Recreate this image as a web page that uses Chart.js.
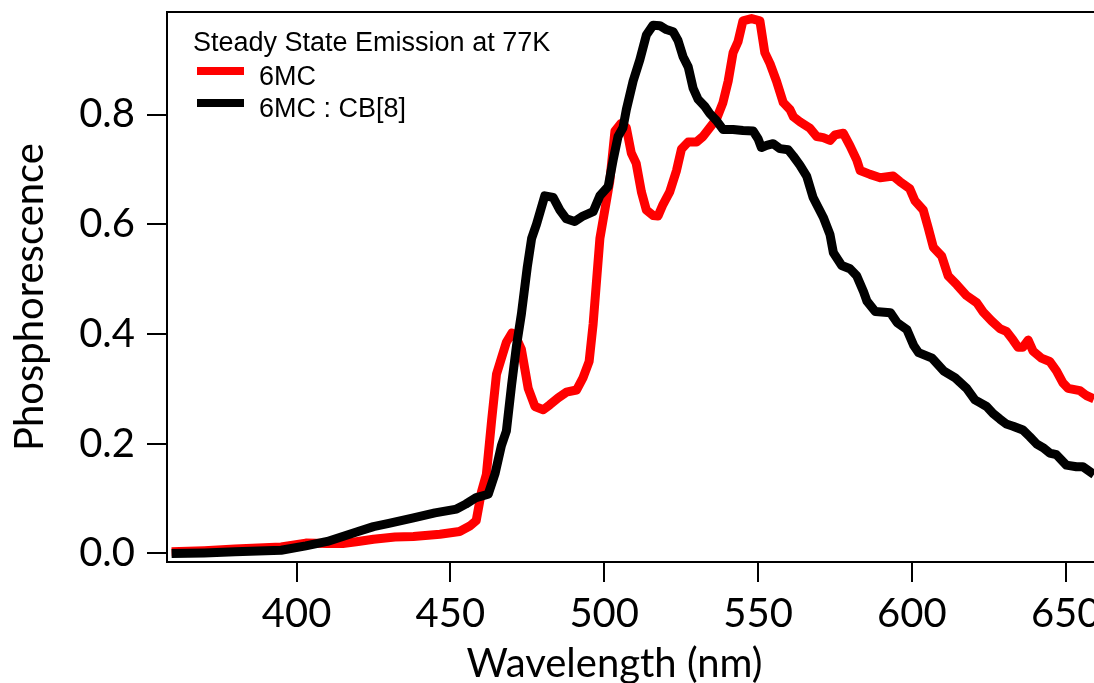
<!DOCTYPE html>
<html>
<head>
<meta charset="utf-8">
<script src="https://cdn.jsdelivr.net/npm/chart.js@4.4.1/dist/chart.umd.min.js"></script>
<style>
  html, body { margin: 0; padding: 0; background: #fff; overflow: hidden; }
  #wrap { width: 1094px; height: 683px; position: relative; }
</style>
</head>
<body>
<div id="wrap"><canvas id="c" width="1094" height="683"></canvas></div>
<script>
// Steady-state phosphorescence spectra at 77 K

const legendTitle = 'Steady State Emission at 77K';
const seriesNames = ['6MC', '6MC : CB[8]'];
const seriesColors = ['#ff0000', '#000000'];

const xTitle = 'Wavelength (nm)';
const yTitle = 'Phosphorescence';
const xTickValues = [400, 450, 500, 550, 600, 650];
const yTickValues = [0.0, 0.2, 0.4, 0.6, 0.8];
const xRange = [357.9, 659.2];
const yRange = [-0.0155, 0.987];

// 6MC alone
const wl6MC = [359.4, 370, 380, 395, 403, 410, 415, 420, 425, 432, 438, 446.6, 453, 456.3, 458.4, 460.1, 461.7, 463.4, 465, 466.6,
  468.2, 470, 471, 473.1, 475.3, 477.5, 480.2, 482.3, 485.1, 487.7, 491, 493.1, 495.1, 496.4, 497.5, 498.6, 500.2, 501.8, 503.5, 505.5, 507.2,
  508.8, 510.4, 512.1, 513.7, 515.9, 517.5, 519.1, 521.3, 523.5, 525.1, 527.3, 530, 532.1, 534.3, 536.5, 538.6, 540.3, 541.9, 543.5, 545.1,
  547.9, 550.6, 552.2, 553.9, 556, 558.2, 560.4, 561.5, 563.6, 566.9, 569.1, 571.2, 573.4, 575, 577.7, 579.9, 582.1, 583.2, 586.4, 589.7,
  593.9, 596.1, 599.3, 601, 603.7, 605.3, 607, 609.7, 611.8, 614.6, 617.8, 621.1, 623.2, 625.9, 628.6, 630.7, 632.9, 634.5, 636.1, 637.8,
  639.4, 642.1, 644.8, 647, 649.1, 650.8, 654.6, 656.7, 659.2];
const em6MC = [0.003, 0.005, 0.008, 0.012, 0.019, 0.018, 0.018, 0.022, 0.026, 0.030, 0.031, 0.035, 0.040, 0.050, 0.060, 0.112, 0.144, 0.242, 0.327, 0.356,
  0.385, 0.402, 0.398, 0.372, 0.301, 0.268, 0.262, 0.271, 0.284, 0.294, 0.298, 0.320, 0.350, 0.418, 0.496, 0.574, 0.626, 0.678, 0.770, 0.784, 0.776,
  0.730, 0.711, 0.659, 0.626, 0.616, 0.615, 0.636, 0.659, 0.698, 0.737, 0.750, 0.750, 0.760, 0.776, 0.792, 0.822, 0.861, 0.913, 0.933, 0.971,
  0.975, 0.971, 0.913, 0.893, 0.861, 0.822, 0.809, 0.796, 0.787, 0.775, 0.760, 0.758, 0.753, 0.763, 0.766, 0.743, 0.717, 0.698, 0.691, 0.685,
  0.688, 0.678, 0.665, 0.643, 0.626, 0.594, 0.558, 0.542, 0.506, 0.490, 0.470, 0.457, 0.440, 0.424, 0.410, 0.405, 0.389, 0.376, 0.376, 0.389,
  0.369, 0.356, 0.350, 0.333, 0.311, 0.301, 0.297, 0.288, 0.282];

// 6MC in the CB[8] host
const wlCB8 = [359.4, 370, 380, 395, 403, 410, 415, 420, 425, 430, 438, 445, 452, 455, 458.4, 462.3, 464.5, 466.6, 468.2, 469.9,
  471.5, 473.1, 475, 476.4, 478, 480.7, 483.4, 485.6, 487.7, 490.4, 493.1, 496.4, 498.6, 501.3, 502.9, 504.5, 506.1, 507.2, 509.4, 511.6,
  513.7, 515.9, 518.1, 520.2, 522.4, 524, 525.6, 527.3, 528.9, 530.5, 532.7, 534.3, 536.5, 538.6, 541.9, 545.1, 548.4, 550, 551.1, 552.8,
  554.9, 557.1, 559.8, 561.5, 563.6, 565.8, 567.9, 571.2, 573.4, 574.5, 577.2, 579.9, 582.1, 584.3, 585.4, 588.1, 593, 595.2, 598.4, 600.6,
  602.2, 606.6, 610.3, 614.1, 617.8, 620.5, 622.1, 624.3, 626.4, 628.6, 630.7, 632.9, 636.1, 638.3, 640.5, 642.6, 644.8, 647, 650.2, 653.5,
  655.6, 659.2];
const emCB8 = [0.000, 0.001, 0.003, 0.006, 0.014, 0.022, 0.031, 0.040, 0.049, 0.055, 0.065, 0.074, 0.081, 0.090, 0.102, 0.108, 0.145, 0.197, 0.223, 0.307,
  0.379, 0.437, 0.522, 0.574, 0.600, 0.652, 0.649, 0.626, 0.610, 0.605, 0.615, 0.623, 0.652, 0.669, 0.717, 0.760, 0.776, 0.809, 0.861, 0.900,
  0.945, 0.963, 0.962, 0.955, 0.951, 0.935, 0.906, 0.887, 0.848, 0.828, 0.815, 0.802, 0.789, 0.773, 0.773, 0.771, 0.770, 0.756, 0.740, 0.744,
  0.747, 0.738, 0.736, 0.724, 0.708, 0.688, 0.649, 0.613, 0.581, 0.548, 0.525, 0.519, 0.506, 0.477, 0.460, 0.441, 0.439, 0.421, 0.408, 0.379,
  0.366, 0.356, 0.333, 0.320, 0.301, 0.280, 0.275, 0.268, 0.255, 0.245, 0.236, 0.232, 0.225, 0.213, 0.200, 0.193, 0.183, 0.180, 0.161, 0.158,
  0.158, 0.144];

const toPoints = (xs, ys) => xs.map((x, i) => ({ x: x, y: ys[i] }));

const axisFont = { family: 'Lato', size: 40 };
const legendFont = '27px "Liberation Sans"';

// Frame top edge, inset legend and axis titles
const decorations = {
  id: 'decorations',
  afterDraw(chart) {
    const ctx = chart.ctx;
    const area = chart.chartArea;
    ctx.save();

    // top border of the plot frame
    ctx.strokeStyle = '#000';
    ctx.lineWidth = 2;
    ctx.beginPath();
    ctx.moveTo(area.left - 1, area.top);
    ctx.lineTo(area.right, area.top);
    ctx.stroke();

    // inset legend
    ctx.fillStyle = '#000';
    ctx.font = legendFont;
    ctx.textAlign = 'left';
    ctx.textBaseline = 'alphabetic';
    ctx.fillText(legendTitle, 193, 50.5);
    const rows = [85, 117];
    seriesNames.forEach((name, i) => {
      ctx.strokeStyle = seriesColors[i];
      ctx.lineWidth = 8;
      ctx.lineCap = 'butt';
      ctx.beginPath();
      ctx.moveTo(197, rows[i] - 14);
      ctx.lineTo(244, rows[i] - 14);
      ctx.stroke();
      ctx.fillStyle = '#000';
      ctx.fillText(name, 259, rows[i]);
    });

    // axis titles
    ctx.font = axisFont.size + 'px ' + axisFont.family;
    ctx.textAlign = 'center';
    ctx.textBaseline = 'alphabetic';
    ctx.fillText(xTitle, 614.5, 677);
    ctx.translate(43, 297);
    ctx.rotate(-Math.PI / 2);
    ctx.fillText(yTitle, 0, 0);

    ctx.restore();
  }
};

new Chart(document.getElementById('c'), {
  type: 'line',
  data: {
    datasets: [
      {
        label: seriesNames[0],
        data: toPoints(wl6MC, em6MC),
        borderColor: seriesColors[0],
        borderWidth: 9,
        order: 1
      },
      {
        label: seriesNames[1],
        data: toPoints(wlCB8, emCB8),
        borderColor: seriesColors[1],
        borderWidth: 9,
        order: 0
      }
    ]
  },
  options: {
    responsive: false,
    animation: false,
    devicePixelRatio: 1,
    layout: { padding: { top: 12, right: 0, bottom: 0, left: 0 } },
    elements: {
      point: { radius: 0 },
      line: { tension: 0, borderJoinStyle: 'round', borderCapStyle: 'butt', fill: false }
    },
    plugins: {
      legend: { display: false },
      tooltip: { enabled: false },
      title: { display: false }
    },
    scales: {
      x: {
        type: 'linear',
        position: 'bottom',
        min: xRange[0],
        max: xRange[1],
        afterBuildTicks: s => { s.ticks = xTickValues.map(v => ({ value: v })); },
        afterFit: s => { s.height = 121; s.paddingLeft = 0; s.paddingRight = 0; },
        ticks: {
          font: axisFont,
          color: '#000',
          padding: 8,
          maxRotation: 0,
          autoSkip: false,
          callback: v => String(v)
        },
        grid: { drawOnChartArea: false, drawTicks: true, tickLength: 20, color: '#000', lineWidth: 2 },
        border: { display: true, color: '#000', width: 2 }
      },
      y: {
        type: 'linear',
        position: 'left',
        min: yRange[0],
        max: yRange[1],
        afterBuildTicks: s => { s.ticks = yTickValues.map(v => ({ value: v })); },
        afterFit: s => { s.width = 167; s.paddingTop = 0; s.paddingBottom = 0; },
        ticks: {
          font: axisFont,
          color: '#000',
          padding: 12,
          autoSkip: false,
          callback: v => Number(v).toFixed(1)
        },
        grid: { drawOnChartArea: false, drawTicks: true, tickLength: 20, color: '#000', lineWidth: 2 },
        border: { display: true, color: '#000', width: 2 }
      }
    }
  },
  plugins: [decorations]
});
</script>
</body>
</html>
